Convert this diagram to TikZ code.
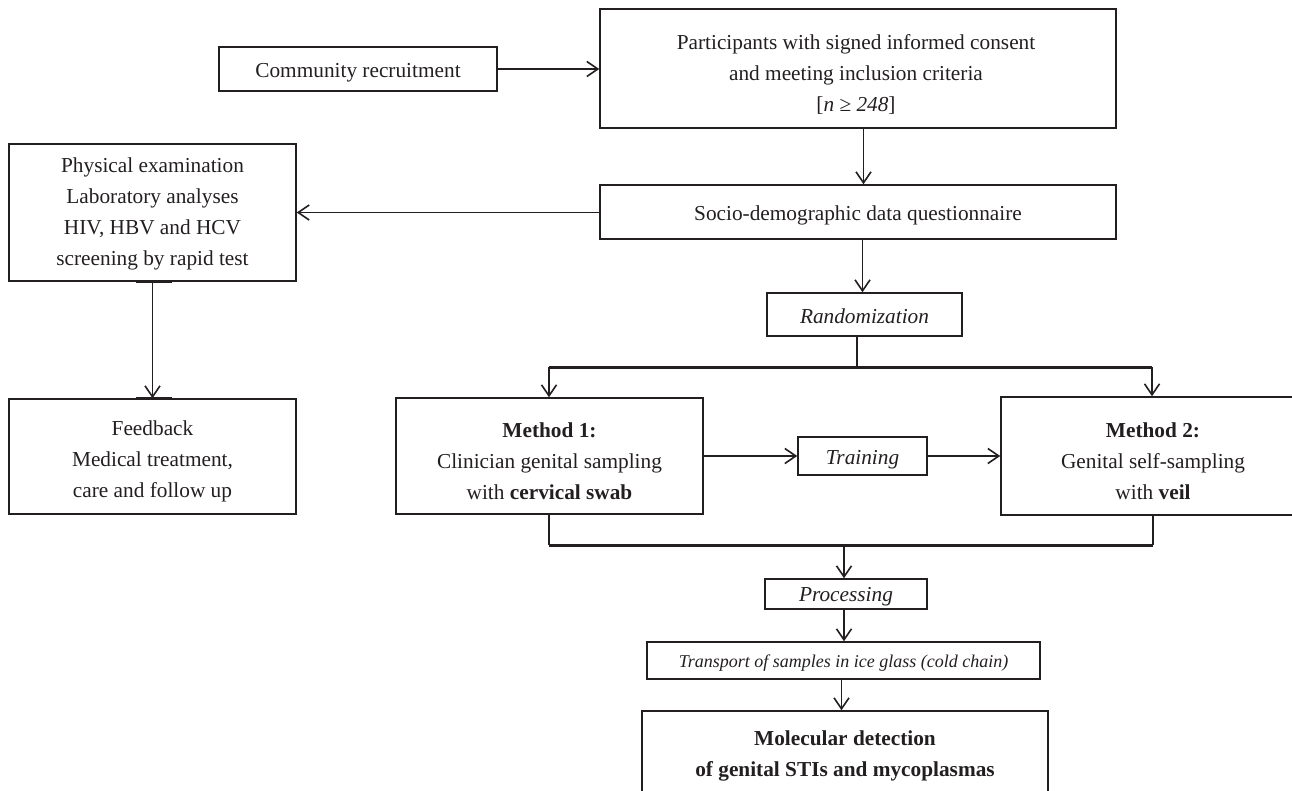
\documentclass[tikz,border=0pt]{standalone}
\usepackage{fontspec}
\setmainfont{Liberation Serif}
\usetikzlibrary{arrows.meta}
\definecolor{lc}{HTML}{231F20}
\begin{document}
\begin{tikzpicture}[x=1pt,y=-1pt,
  box/.style={draw=lc, line width=1.5pt, inner sep=0pt},
  txt/.style={align=center, inner sep=0pt, text=lc, font=\fontsize{21.3}{30.8}\selectfont},
  arr/.style={draw=lc, line width=1.6pt, -{Straight Barb[length=11pt,width=15pt,line width=1.6pt]}},
  ln/.style={draw=lc, line width=1.5pt},
  bar/.style={draw=lc, line width=3pt},
  thickseg/.style={draw=lc, line width=2.8pt},
]
\useasboundingbox (0,0) rectangle (1292,790);
\clip (0,0) rectangle (1292,790);

% boxes
\node[box, minimum width=278pt, minimum height=44pt] (comm) at (358,69) {};
\node[box, minimum width=516pt, minimum height=119pt] (part) at (858,68.5) {};
\node[box, minimum width=516pt, minimum height=54pt] (socio) at (858,212) {};
\node[box, minimum width=287pt, minimum height=137pt] (phys) at (152.5,212.5) {};
\node[box, minimum width=287pt, minimum height=115pt] (feed) at (152.5,456.5) {};
\node[box, minimum width=195pt, minimum height=43pt] (rand) at (864.5,314.5) {};
\node[box, minimum width=307pt, minimum height=116pt] (m1) at (549.5,456) {};
\node[box, minimum width=304pt, minimum height=118pt] (m2) at (1153,456) {};
\node[box, minimum width=129pt, minimum height=38pt] (train) at (862.5,456) {};
\node[box, minimum width=162pt, minimum height=30pt] (proc) at (846,594) {};
\node[box, minimum width=393pt, minimum height=37pt] (trans) at (843.5,660.5) {};
\node[box, minimum width=406pt, minimum height=86pt] (mol) at (845,754) {};

% texts
\node[txt] (commT) at (358,73) {Community recruitment};
\node[txt] (partT) at (856,74.5)
  {Participants with signed informed consent\\ and meeting inclusion criteria\\ {[}\textit{n} ≥ \textit{248}{]}};
\node[txt] (socioT) at (858,215) {Socio-demographic data questionnaire};
\node[txt] (physT) at (152.5,214) {Physical examination\\ Laboratory analyses\\ HIV, HBV and HCV\\ screening by rapid test};
\node[txt] (feedT) at (152.5,461.5) {Feedback\\ Medical treatment,\\ care and follow up};
\node[txt] (randT) at (864.5,316.5) {\textit{Randomization}};
\node[txt] (m1T) at (549.5,461) {\textbf{Method 1:}\\ Clinician genital sampling\\ with \textbf{cervical swab}};
\node[txt] (m2T) at (1153,461) {\textbf{Method 2:}\\ Genital self-sampling\\ with \textbf{veil}};
\node[txt] (trainT) at (862.5,460) {\textit{Training}};
\node[txt] (procT) at (846,597) {\textit{Processing}};
\node[txt, font=\fontsize{18}{22}\selectfont] (transT) at (843.5,663.5) {\textit{Transport of samples in ice glass (cold chain)}};
\node[txt] (molT) at (845,756) {\textbf{Molecular detection}\\ \textbf{of genital STIs and mycoplasmas}};

% split / join coordinates
\coordinate (s1L) at (549,367);
\coordinate (s1R) at (1152,367);
\coordinate (s1M) at (857,367);
\coordinate (j1L) at (549,545);
\coordinate (j1R) at (1153,545);

% connectors
\draw[arr] (comm.east) -- (comm.east -| part.west);
\draw[arr] ([xshift=-1pt]part.south -| rand.north) -- ([xshift=-1pt]socio.north -| rand.north);
\draw[arr] (socio.west |- phys.east) -- (phys.east);
\draw[arr] (phys.south) -- (feed.north);
\draw[thickseg] ([xshift=-17pt]phys.south) -- ([xshift=19pt]phys.south);
\draw[thickseg] ([xshift=-17pt]feed.north) -- ([xshift=19pt]feed.north);
\draw[arr] ([xshift=-2pt]socio.south -| rand.north) -- ([xshift=-2pt]rand.north);
\draw[ln] (rand.south -| s1M) -- (s1M);
\draw[bar] (s1L) -- (s1R);
\draw[arr] (s1L) -- (s1L |- m1.north);
\draw[arr] (s1R) -- (s1R |- m2.north);
\draw[arr] (m1.east |- train.west) -- (train.west);
\draw[arr] (train.east) -- (train.east -| m2.west);
\draw[ln] (m1.south -| j1L) -- (j1L);
\draw[ln] (m2.south -| j1R) -- (j1R);
\draw[bar] (j1L) -- (j1R);
\draw[arr] ([xshift=-2pt]j1L -| proc.north) -- ([xshift=-2pt]proc.north);
\draw[arr] ([xshift=-2pt]proc.south) -- ([xshift=-2pt]proc.south |- trans.north);
\draw[arr] ([xshift=-2pt]trans.south) -- ([xshift=-2pt]trans.south |- mol.north);
\end{tikzpicture}
\end{document}
